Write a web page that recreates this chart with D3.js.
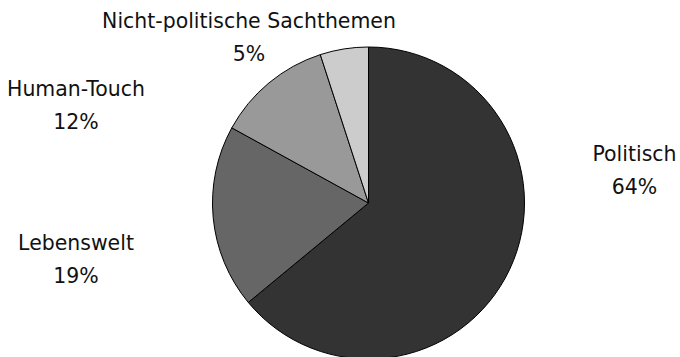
<!DOCTYPE html>
<html>
<head>
<meta charset="utf-8">
<script src="https://cdn.jsdelivr.net/npm/d3@7"></script>
<style>
  html, body { margin: 0; padding: 0; background: #fff; }
  svg { display: block; }
  .label { font-family: "DejaVu Sans", sans-serif; font-size: 22px; fill: #111; }
</style>
</head>
<body>
<svg id="chart" width="680" height="357"></svg>
<script>
// chart data
const categories = ['Politisch', 'Lebenswelt', 'Human-Touch', 'Nicht-politische Sachthemen'];
const shares = [64, 19, 12, 5];
const fills = ['#333333', '#666666', '#999999', '#cccccc'];

const CX = 368.5;
const CY = 203;
const RADIUS = 156;
const LINE_GAP = 33;
const TEXT_SCALE_X = 0.93;   // source font is a slightly narrower face

// label anchors (first-line baseline) relative to pie centre, in radii
const LABEL_LAYOUT = {
    'Politisch': { x: 1.705, y: -0.269 },
    'Lebenswelt': { x: -1.875, y: 0.301 },
    'Human-Touch': { x: -1.875, y: -0.686 },
    'Nicht-politische Sachthemen': { x: -0.766, y: -1.122 }
};

const data = categories.map((name, i) => ({ name, value: shares[i], color: fills[i] }));

const svg = d3.select('#chart');

const pie = d3.pie()
    .value(d => d.value)
    .sort(null);

const arc = d3.arc()
    .innerRadius(0)
    .outerRadius(RADIUS);

const g = svg.append('g')
    .attr('transform', `translate(${CX},${CY})`);

g.selectAll('path')
    .data(pie(data))
    .enter()
    .append('path')
    .attr('d', arc)
    .attr('fill', d => d.data.color)
    .attr('stroke', '#000')
    .attr('stroke-width', 1)
    .attr('stroke-linejoin', 'round');

const labels = g.selectAll('text.label')
    .data(data)
    .enter()
    .append('text')
    .attr('class', 'label')
    .attr('text-anchor', 'middle')
    .attr('transform', d => {
        const l = LABEL_LAYOUT[d.name];
        return `translate(${l.x * RADIUS},${l.y * RADIUS}) scale(${TEXT_SCALE_X},1)`;
    });

labels.append('tspan')
    .attr('x', 0)
    .attr('y', 0)
    .text(d => d.name);

labels.append('tspan')
    .attr('x', 0)
    .attr('y', LINE_GAP)
    .text(d => d.value + '%');
</script>
</body>
</html>
